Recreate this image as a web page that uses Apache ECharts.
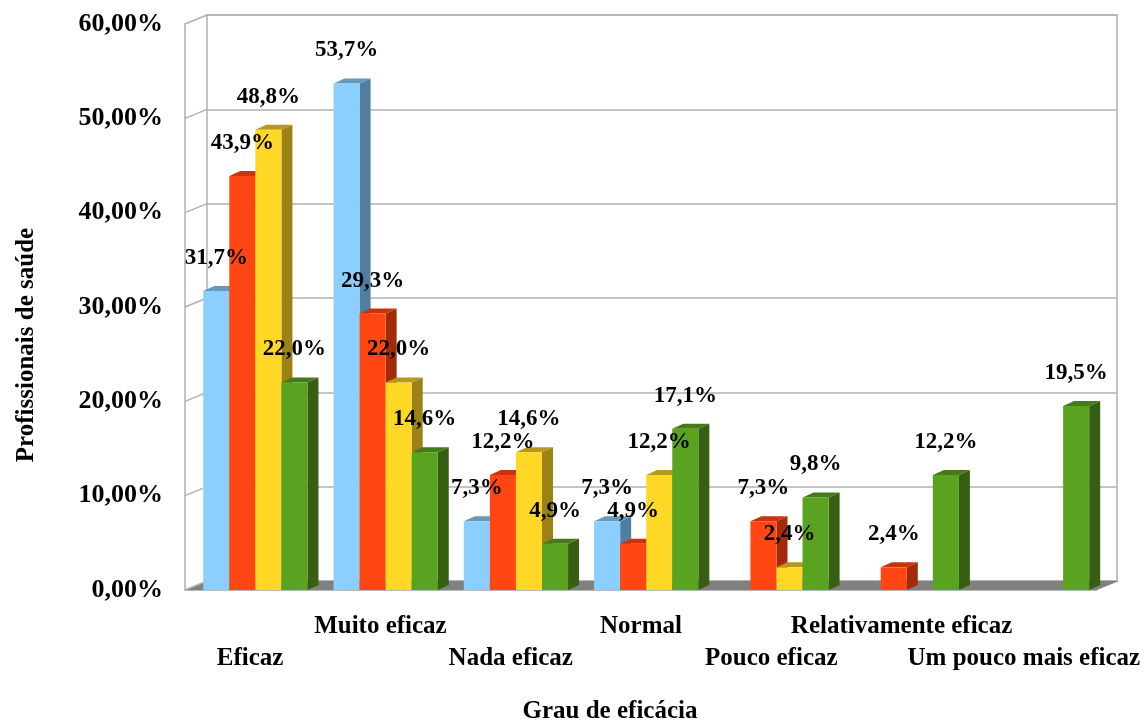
<!DOCTYPE html>
<html>
<head>
<meta charset="utf-8">
<script src="https://cdn.jsdelivr.net/npm/echarts@6/dist/echarts.min.js"></script>
<style>
  html, body { margin: 0; padding: 0; background: #ffffff; }
  #chart { width: 1147px; height: 724px; }
</style>
</head>
<body>
<div id="chart"></div>
<script>
// Grau de eficácia: percentage of health professionals per answer, four groups
const categories = ['Eficaz', 'Muito eficaz', 'Nada eficaz', 'Normal', 'Pouco eficaz', 'Relativamente eficaz', 'Um pouco mais eficaz'];
const serie1 = [31.7, 53.7, 7.3, 7.3, null, null, null];
const serie2 = [43.9, 29.3, 12.2, 4.9, 7.3, 2.4, null];
const serie3 = [48.8, 22.0, 14.6, 12.2, 2.4, null, null];
const serie4 = [22.0, 14.6, 4.9, 17.1, 9.8, 12.2, 19.5];
const yTicks = [0, 10, 20, 30, 40, 50, 60];

const SERIF = '"Liberation Serif", "Times New Roman", serif';
// depth of each 3D bar and of the chart box (px)
const BAR_DX = 11, BAR_DY = -5;
const WALL_DX = 22, WALL_DY = -9;

const palettes = [
  { front: '#8ACFFF', side: '#4F7EA0', top: '#6897BE' },
  { front: '#FF4613', side: '#A52A08', top: '#C8340C' },
  { front: '#FFD825', side: '#9C8114', top: '#B8981A' },
  { front: '#5AA320', side: '#365F12', top: '#447A17' }
];

function pct1(v) { return v.toFixed(1).replace('.', ',') + '%'; }
function pct2(v) { return v.toFixed(2).replace('.', ',') + '%'; }

function barRenderer(k) {
  const pal = palettes[k];
  return function (params, api) {
    const v = api.value(1);
    if (v == null || isNaN(v)) return null;
    const c = api.value(0);
    const top = api.coord([c, v]);
    const base = api.coord([c, 0]);
    const bw = api.size([1, 0])[0];
    const w = bw * 0.2;
    const x = top[0] - bw * 0.36 + k * w;
    const yt = top[1], yb = base[1];
    return {
      type: 'group',
      children: [
        { type: 'polygon', z2: k,
          shape: { points: [[x + w, yb], [x + w + BAR_DX, yb + BAR_DY], [x + w + BAR_DX, yt + BAR_DY], [x + w, yt]] },
          style: { fill: pal.side } },
        { type: 'polygon', z2: k,
          shape: { points: [[x, yt], [x + w, yt], [x + w + BAR_DX, yt + BAR_DY], [x + BAR_DX, yt + BAR_DY]] },
          style: { fill: pal.top } },
        { type: 'rect', z2: k,
          shape: { x: x, y: yt, width: w, height: yb - yt },
          style: { fill: pal.front } },
        { type: 'text', z2: 100, x: x + w / 2, y: yt - 33,
          style: { text: pct1(v), align: 'center', verticalAlign: 'middle',
                   font: 'bold 23px ' + SERIF, fill: '#000' } }
      ]
    };
  };
}

// grey floor under the bars
function floorRenderer(params, api) {
  const bw = api.size([1, 0])[0];
  const a = api.coord([0, 0]);
  const b = api.coord([categories.length - 1, 0]);
  const x0 = a[0] - bw / 2, x1 = b[0] + bw / 2, y = a[1];
  return {
    type: 'polygon', z2: -5,
    shape: { points: [[x0, y], [x1, y], [x1 + WALL_DX, y + WALL_DY], [x0 + WALL_DX, y + WALL_DY]] },
    style: { fill: '#808080' }
  };
}

// left side wall: a short receding line at every tick
function sideWallRenderer(params, api) {
  const bw = api.size([1, 0])[0];
  const p = api.coord([0, api.value(1)]);
  const x0 = p[0] - bw / 2;
  return {
    type: 'line', z2: -4,
    shape: { x1: x0, y1: p[1], x2: x0 + WALL_DX, y2: p[1] + WALL_DY },
    style: { stroke: '#b0b0b0', lineWidth: 1.5 }
  };
}

const seriesData = [serie1, serie2, serie3, serie4];

const chart = echarts.init(document.getElementById('chart'), null, { renderer: 'canvas' });
chart.setOption({
  backgroundColor: '#ffffff',
  animation: false,
  grid: [
    { left: 185, right: 50, top: 24, bottom: 134, outerBoundsMode: 'none', containLabel: false },
    { left: 207, right: 30, top: 15, bottom: 143, outerBoundsMode: 'none', containLabel: false,
      show: true, borderColor: '#b0b0b0', borderWidth: 1.5, backgroundColor: '#ffffff', z: 0 }
  ],
  xAxis: [
    { type: 'category', gridIndex: 0, data: categories,
      axisTick: { show: false },
      axisLine: { show: true, lineStyle: { color: '#b8b8b8', width: 1 } },
      axisLabel: {
        interval: 0, margin: 21, lineHeight: 32,
        fontFamily: SERIF, fontWeight: 'bold', fontSize: 25, color: '#000',
        formatter: function (val, idx) {
          if (idx === categories.length - 1) return '\n{last|' + val + '}';
          return idx % 2 === 0 ? '\n' + val : val;
        },
        rich: {
          last: { fontFamily: SERIF, fontWeight: 'bold', fontSize: 25, color: '#000',
                  lineHeight: 32, padding: [0, 16, 0, 0] }
        }
      }
    },
    { type: 'category', gridIndex: 1, data: categories, show: false }
  ],
  yAxis: [
    { type: 'value', gridIndex: 0, min: 0, max: 60, interval: 10,
      splitLine: { show: false }, axisTick: { show: false },
      axisLine: { show: true, lineStyle: { color: '#b0b0b0', width: 1.5 } },
      axisLabel: { margin: 22, fontFamily: SERIF, fontWeight: 'bold', fontSize: 26, color: '#000',
                   formatter: pct2 } },
    { type: 'value', gridIndex: 1, min: 0, max: 60, interval: 10,
      axisLabel: { show: false }, axisTick: { show: false }, axisLine: { show: false },
      splitLine: { show: true, lineStyle: { color: '#b0b0b0', width: 1.5 } } }
  ],
  graphic: [
    { type: 'text', x: 27, y: 345, rotation: Math.PI / 2,
      style: { text: 'Profissionais de saúde', align: 'center', verticalAlign: 'middle',
               font: 'bold 25px ' + SERIF, fill: '#000' } },
    { type: 'text', x: 610, y: 712,
      style: { text: 'Grau de eficácia', align: 'center', verticalAlign: 'middle',
               font: 'bold 25px ' + SERIF, fill: '#000' } }
  ],
  series: [
    { type: 'custom', name: 'piso', xAxisIndex: 0, yAxisIndex: 0, z: 1,
      renderItem: floorRenderer, data: [[0, 0]], silent: true },
    { type: 'custom', name: 'parede', xAxisIndex: 0, yAxisIndex: 0, z: 1,
      renderItem: sideWallRenderer, data: yTicks.map(function (v) { return [0, v]; }), silent: true }
  ].concat(seriesData.map(function (arr, k) {
    return {
      type: 'custom', name: 'Série ' + (k + 1), xAxisIndex: 0, yAxisIndex: 0, z: 3,
      renderItem: barRenderer(k),
      encode: { x: 0, y: 1 },
      data: arr.map(function (v, i) { return [i, v]; })
    };
  }))
});
</script>
</body>
</html>
